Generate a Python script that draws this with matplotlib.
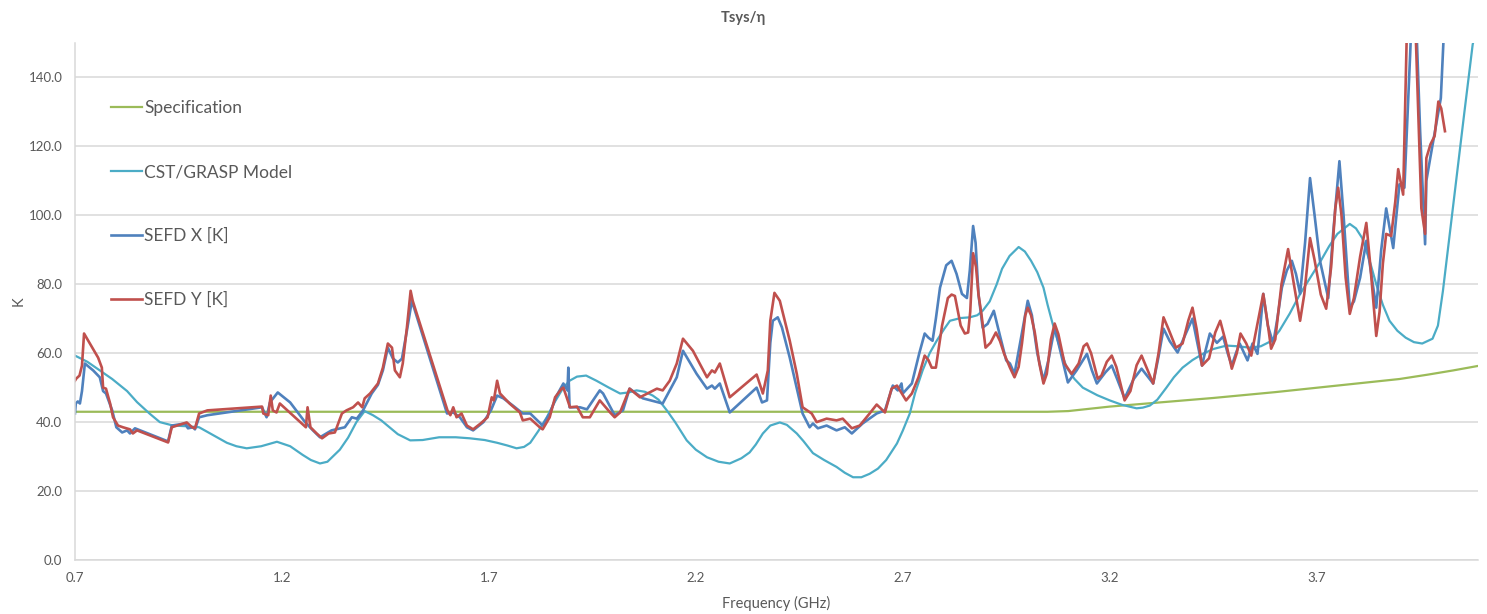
import matplotlib
matplotlib.use("Agg")
import matplotlib.pyplot as plt
from matplotlib.ticker import FormatStrFormatter

plt.rcParams['font.family'] = ['Lato', 'DejaVu Sans']

# ---- data -------------------------------------------------------------
spec_f = [0.70, 3.05, 3.10, 3.20, 3.30, 3.45, 3.60, 3.75, 3.90, 3.97, 4.03, 4.09]
spec_k = [43.0, 43.0, 43.2, 44.5, 45.5, 47.0, 48.7, 50.6, 52.5, 53.8, 55.0, 56.3]

model_f = [0.700, 0.730, 0.760, 0.790, 0.826, 0.850, 0.880, 0.905, 0.937, 0.970,
           1.000, 1.030, 1.067, 1.090, 1.115, 1.150, 1.188, 1.220, 1.250, 1.270,
           1.292, 1.310, 1.340, 1.360, 1.380, 1.400, 1.420, 1.440, 1.460, 1.480,
           1.510, 1.540, 1.580, 1.620, 1.654, 1.690, 1.720, 1.745, 1.767, 1.785,
           1.800, 1.820, 1.840, 1.860, 1.880, 1.895, 1.913, 1.935, 1.960, 1.990,
           2.017, 2.037, 2.057, 2.077, 2.096, 2.110, 2.130, 2.150, 2.178, 2.200,
           2.227, 2.255, 2.282, 2.310, 2.330, 2.345, 2.362, 2.380, 2.403, 2.420,
           2.444, 2.460, 2.483, 2.510, 2.540, 2.560, 2.580, 2.600, 2.620, 2.640,
           2.660, 2.686, 2.700, 2.717, 2.730, 2.748, 2.765, 2.782, 2.800, 2.814,
           2.840, 2.862, 2.880, 2.893, 2.910, 2.927, 2.940, 2.958, 2.980, 2.995,
           3.010, 3.025, 3.040, 3.050, 3.062, 3.080, 3.096, 3.115, 3.135, 3.170,
           3.200, 3.230, 3.265, 3.280, 3.297, 3.315, 3.337, 3.355, 3.376, 3.400,
           3.425, 3.450, 3.482, 3.510, 3.538, 3.565, 3.590, 3.610, 3.635, 3.660,
           3.685, 3.710, 3.730, 3.750, 3.780, 3.795, 3.810, 3.830, 3.844, 3.860,
           3.876, 3.895, 3.915, 3.935, 3.955, 3.980, 3.993, 4.005, 4.020, 4.037,
           4.057, 4.077, 4.095]
model_k = [59.3, 57.5, 55.0, 52.5, 49.0, 45.8, 42.5, 40.0, 39.0, 38.8,
           38.5, 36.5, 34.0, 33.0, 32.4, 33.0, 34.3, 33.0, 30.5, 29.0,
           28.0, 28.5, 32.0, 35.5, 40.0, 43.2, 42.0, 40.5, 38.5, 36.5,
           34.7, 34.8, 35.6, 35.6, 35.3, 34.8, 34.0, 33.2, 32.4, 32.8,
           34.0, 37.5, 41.4, 46.0, 50.0, 52.0, 53.2, 53.5, 52.0, 50.0,
           48.3, 48.6, 49.2, 48.8, 47.7, 46.5, 43.4, 40.0, 34.7, 32.0,
           29.8, 28.5, 28.0, 29.5, 31.2, 33.5, 36.7, 39.0, 39.9, 39.2,
           36.7, 34.5, 31.0, 29.0, 27.0, 25.3, 24.0, 24.0, 25.0, 26.5,
           29.0, 33.8, 37.5, 42.5, 48.5, 55.0, 60.0, 63.6, 67.0, 69.4,
           70.2, 70.4, 71.0, 72.3, 75.0, 80.0, 84.5, 88.2, 90.8, 89.5,
           86.8, 83.5, 79.0, 74.0, 68.6, 61.5, 55.8, 52.5, 50.0, 47.8,
           46.3, 45.0, 44.0, 44.2, 44.8, 46.5, 50.0, 53.0, 55.8, 58.0,
           59.8, 61.2, 62.2, 62.0, 61.6, 62.0, 63.5, 66.5, 71.5, 77.2,
           82.0, 86.8, 91.0, 94.6, 97.5, 96.2, 93.4, 86.0, 80.0, 74.0,
           69.4, 66.5, 64.5, 63.2, 62.8, 64.2, 68.0, 78.0, 93.0, 110.0,
           130.0, 149.6, 158.0]

sefd_x_f = [0.700, 0.702, 0.707, 0.712, 0.717, 0.724, 0.744, 0.760, 0.768, 0.775,
            0.790, 0.800, 0.814, 0.826, 0.833, 0.845, 0.925, 0.934, 0.966, 0.973,
            0.985, 0.990, 1.000, 1.020, 1.152, 1.163, 1.171, 1.190, 1.220, 1.256,
            1.275, 1.292, 1.320, 1.352, 1.369, 1.381, 1.396, 1.417, 1.432, 1.444,
            1.456, 1.468, 1.480, 1.490, 1.502, 1.514, 1.599, 1.614, 1.630, 1.647,
            1.662, 1.687, 1.705, 1.720, 1.735, 1.758, 1.782, 1.800, 1.830, 1.847,
            1.864, 1.880, 1.890, 1.892, 1.895, 1.920, 1.937, 1.968, 1.976, 2.004,
            2.024, 2.040, 2.072, 2.120, 2.154, 2.169, 2.202, 2.227, 2.239, 2.246,
            2.258, 2.282, 2.347, 2.360, 2.372, 2.380, 2.386, 2.398, 2.408, 2.427,
            2.458, 2.475, 2.483, 2.495, 2.516, 2.540, 2.560, 2.577, 2.603, 2.637,
            2.657, 2.676, 2.688, 2.697, 2.700, 2.722, 2.740, 2.753, 2.762, 2.772,
            2.780, 2.790, 2.805, 2.818, 2.830, 2.843, 2.855, 2.862, 2.870, 2.876,
            2.883, 2.893, 2.905, 2.920, 2.935, 2.950, 2.959, 2.970, 2.985, 3.002,
            3.012, 3.025, 3.040, 3.052, 3.067, 3.080, 3.099, 3.120, 3.145, 3.157,
            3.169, 3.190, 3.205, 3.218, 3.236, 3.258, 3.277, 3.290, 3.305, 3.318,
            3.330, 3.345, 3.364, 3.385, 3.400, 3.410, 3.423, 3.432, 3.442, 3.459,
            3.474, 3.485, 3.495, 3.505, 3.514, 3.533, 3.545, 3.557, 3.564, 3.571,
            3.582, 3.595, 3.605, 3.616, 3.628, 3.640, 3.650, 3.660, 3.672, 3.684,
            3.695, 3.708, 3.728, 3.740, 3.755, 3.765, 3.780, 3.790, 3.805, 3.820,
            3.832, 3.844, 3.856, 3.868, 3.885, 3.900, 3.912, 3.926, 3.935, 3.950,
            3.962, 3.965, 3.975, 4.000, 4.010]
sefd_x_k = [42.5, 45.4, 46.0, 45.4, 49.0, 57.0, 55.0, 53.0, 49.0, 48.3,
            43.4, 38.5, 37.0, 37.6, 36.7, 38.2, 34.4, 39.0, 39.6, 38.2,
            38.5, 37.9, 41.4, 42.0, 44.3, 41.4, 45.7, 48.6, 45.7, 40.0,
            37.6, 35.6, 37.6, 38.5, 41.4, 41.0, 43.4, 48.3, 50.8, 55.0,
            61.6, 58.5, 57.3, 58.4, 66.5, 75.2, 42.5, 42.8, 41.4, 38.5,
            37.6, 40.0, 43.4, 47.7, 46.9, 44.8, 42.5, 42.5, 39.0, 42.5,
            47.7, 51.2, 49.2, 55.8, 44.3, 44.3, 43.7, 49.2, 48.3, 42.0,
            43.4, 49.7, 46.9, 45.4, 53.0, 60.7, 54.0, 49.7, 50.6, 49.7,
            51.2, 42.8, 50.0, 45.7, 46.3, 63.0, 69.4, 70.4, 67.5, 58.7,
            42.5, 38.5, 39.6, 38.2, 39.0, 37.6, 38.5, 36.7, 39.6, 42.5,
            43.4, 50.6, 49.2, 51.2, 48.3, 51.2, 60.0, 65.7, 64.5, 63.6,
            70.0, 79.0, 85.5, 86.8, 83.0, 77.2, 76.0, 84.0, 96.9, 92.0,
            77.0, 67.4, 68.5, 72.3, 65.0, 57.9, 57.0, 54.0, 64.0, 75.2,
            71.0, 60.0, 52.0, 58.0, 67.4, 61.0, 51.5, 55.0, 59.8, 55.0,
            51.2, 54.5, 56.4, 52.5, 46.9, 52.5, 55.5, 53.5, 51.2, 59.0,
            67.1, 63.5, 60.2, 66.0, 70.0, 64.0, 56.4, 61.0, 65.7, 63.0,
            64.8, 60.0, 56.4, 60.0, 62.8, 57.9, 62.8, 59.8, 68.0, 77.2,
            68.0, 62.8, 70.0, 79.0, 84.0, 86.8, 83.0, 77.2, 92.0, 110.8,
            100.0, 86.8, 76.0, 95.0, 115.7, 100.0, 73.2, 75.0, 81.9, 92.6,
            83.0, 73.2, 90.0, 102.0, 90.5, 109.0, 108.0, 147.0, 175.0, 124.4,
            91.6, 110.0, 117.0, 134.0, 160.0]

sefd_y_f = [0.700, 0.703, 0.711, 0.717, 0.722, 0.756, 0.765, 0.768, 0.775, 0.785,
            0.792, 0.804, 0.816, 0.833, 0.840, 0.850, 0.925, 0.934, 0.970, 0.983,
            0.990, 1.000, 1.020, 1.152, 1.155, 1.167, 1.173, 1.178, 1.187, 1.195,
            1.258, 1.262, 1.269, 1.284, 1.297, 1.313, 1.328, 1.345, 1.356, 1.372,
            1.384, 1.394, 1.400, 1.413, 1.432, 1.444, 1.456, 1.466, 1.473, 1.485,
            1.492, 1.502, 1.511, 1.516, 1.600, 1.607, 1.614, 1.622, 1.634, 1.647,
            1.662, 1.680, 1.697, 1.707, 1.712, 1.720, 1.727, 1.750, 1.775, 1.782,
            1.800, 1.823, 1.830, 1.847, 1.860, 1.876, 1.880, 1.888, 1.896, 1.913,
            1.927, 1.944, 1.968, 1.993, 2.004, 2.017, 2.040, 2.065, 2.106, 2.120,
            2.137, 2.154, 2.169, 2.193, 2.227, 2.239, 2.246, 2.258, 2.282, 2.347,
            2.362, 2.374, 2.380, 2.390, 2.403, 2.427, 2.444, 2.458, 2.480, 2.492,
            2.516, 2.540, 2.555, 2.577, 2.596, 2.620, 2.637, 2.657, 2.673, 2.686,
            2.708, 2.722, 2.738, 2.753, 2.762, 2.770, 2.780, 2.795, 2.809, 2.818,
            2.826, 2.840, 2.850, 2.858, 2.863, 2.870, 2.877, 2.883, 2.890, 2.900,
            2.912, 2.925, 2.935, 2.945, 2.959, 2.970, 2.980, 2.988, 2.996, 3.002,
            3.010, 3.019, 3.030, 3.040, 3.048, 3.058, 3.067, 3.076, 3.091, 3.108,
            3.125, 3.137, 3.145, 3.155, 3.171, 3.180, 3.193, 3.205, 3.216, 3.236,
            3.250, 3.265, 3.277, 3.290, 3.305, 3.318, 3.330, 3.342, 3.360, 3.376,
            3.390, 3.400, 3.410, 3.423, 3.440, 3.455, 3.467, 3.480, 3.495, 3.507,
            3.516, 3.530, 3.542, 3.556, 3.571, 3.580, 3.590, 3.600, 3.615, 3.631,
            3.645, 3.660, 3.670, 3.684, 3.695, 3.710, 3.723, 3.735, 3.745, 3.752,
            3.760, 3.770, 3.780, 3.790, 3.805, 3.820, 3.830, 3.844, 3.852, 3.860,
            3.868, 3.880, 3.890, 3.897, 3.909, 3.916, 3.922, 3.940, 3.953, 3.962,
            3.965, 3.975, 3.985, 3.994, 4.001, 4.010]
sefd_y_k = [52.0, 52.6, 53.5, 56.4, 65.7, 58.7, 55.8, 50.0, 49.7, 45.4,
            41.4, 39.0, 38.5, 37.9, 36.7, 37.6, 34.1, 38.5, 39.9, 38.5,
            38.2, 42.5, 43.4, 44.5, 42.5, 42.0, 47.7, 43.4, 42.8, 45.4,
            38.5, 44.3, 38.5, 36.7, 35.3, 36.7, 37.0, 42.5, 43.4, 44.3,
            45.7, 44.3, 46.9, 48.3, 51.2, 55.8, 62.8, 61.6, 55.0, 53.0,
            57.0, 67.4, 78.1, 75.2, 43.4, 42.0, 44.3, 41.4, 42.5, 39.0,
            37.9, 39.6, 41.4, 47.2, 46.3, 52.0, 48.3, 45.4, 42.8, 40.5,
            41.0, 38.5, 37.9, 41.4, 47.2, 49.7, 50.0, 47.2, 44.3, 44.5,
            41.4, 41.4, 46.3, 42.8, 41.4, 42.8, 49.7, 47.2, 49.7, 49.2,
            52.0, 57.0, 64.2, 60.7, 53.0, 55.0, 54.4, 57.0, 47.2, 53.8,
            48.3, 55.0, 69.4, 77.5, 75.2, 63.6, 54.0, 44.3, 42.5, 40.0,
            41.0, 40.5, 41.0, 38.2, 39.0, 42.5, 45.1, 42.8, 49.7, 50.6,
            46.3, 48.3, 53.0, 59.3, 58.0, 55.8, 55.8, 68.0, 76.0, 77.0,
            76.6, 68.0, 65.7, 66.0, 72.0, 89.0, 85.0, 77.0, 71.4, 61.6,
            63.0, 66.0, 63.5, 59.8, 55.8, 53.0, 56.0, 62.8, 71.0, 73.2,
            71.0, 66.0, 57.0, 51.2, 54.0, 64.0, 68.6, 65.5, 57.0, 54.0,
            57.0, 62.0, 62.8, 60.0, 52.6, 53.5, 57.5, 59.3, 56.0, 46.3,
            49.0, 56.5, 59.3, 55.5, 51.2, 60.0, 70.4, 67.0, 61.6, 62.8,
            69.5, 73.2, 67.0, 56.4, 58.5, 66.0, 69.4, 63.5, 55.5, 60.0,
            65.7, 62.8, 59.3, 68.0, 77.2, 70.0, 61.3, 64.0, 80.0, 90.2,
            80.0, 69.4, 77.0, 93.4, 87.0, 77.0, 72.9, 85.0, 102.0, 108.0,
            100.0, 82.0, 71.4, 76.0, 88.0, 97.8, 85.0, 65.0, 72.0, 86.0,
            94.6, 94.0, 104.0, 113.4, 106.0, 143.8, 175.0, 150.0, 102.0, 94.6,
            116.6, 120.6, 123.0, 133.0, 131.0, 124.4]

labels = ["Specification", "CST/GRASP Model", "SEFD X [K]", "SEFD Y [K]"]
colors = ["#9BBB59", "#4BACC6", "#4F81BD", "#C0504D"]
x_ticks = [0.7, 1.2, 1.7, 2.2, 2.7, 3.2, 3.7]
y_ticks = [0, 20, 40, 60, 80, 100, 120, 140]

# ---- figure -----------------------------------------------------------
text_col = "#595959"
fig = plt.figure(figsize=(14.87, 6.14), dpi=100)
ax = fig.add_axes([0.0504, 0.088, 0.9436, 0.842])

series = [(spec_f, spec_k), (model_f, model_k), (sefd_x_f, sefd_x_k), (sefd_y_f, sefd_y_k)]
widths = [1.6, 1.6, 1.9, 1.9]
for (fx, ky), lab, col, lw in zip(series, labels, colors, widths):
    ax.plot(fx, ky, color=col, lw=lw, label=lab, solid_joinstyle='round')

ax.set_xlim(0.7, 4.09)
ax.set_ylim(0, 150)
ax.set_xticks(x_ticks)
ax.set_yticks(y_ticks)
ax.xaxis.set_major_formatter(FormatStrFormatter('%.1f'))
ax.yaxis.set_major_formatter(FormatStrFormatter('%.1f'))
ax.tick_params(axis='both', length=0, colors=text_col, labelsize=9.5, pad=9)
ax.yaxis.grid(True, color="#D9D9D9", lw=1.1)
ax.set_axisbelow(True)
for s in ['top', 'right']:
    ax.spines[s].set_visible(False)
ax.spines['left'].set_color("#D9D9D9")
ax.spines['bottom'].set_color("#D9D9D9")
ax.spines['left'].set_linewidth(1.1)
ax.spines['bottom'].set_linewidth(1.1)

ax.set_xlabel("Frequency (GHz)", color=text_col, fontsize=10.5, labelpad=8)
ax.set_ylabel("K", color=text_col, fontsize=10.5, labelpad=2)
fig.text(0.5, 0.97, "Tsys/η", ha='center', va='center', color=text_col,
         fontsize=10.5, fontweight='bold')

leg = ax.legend(loc='upper left', bbox_to_anchor=(0.026, 0.889), frameon=False,
                fontsize=12.5, labelspacing=2.75, handlelength=1.75, handletextpad=0.15,
                borderpad=0, borderaxespad=0)
for t in leg.get_texts():
    t.set_color(text_col)

fig.savefig("out.png", dpi=100)
